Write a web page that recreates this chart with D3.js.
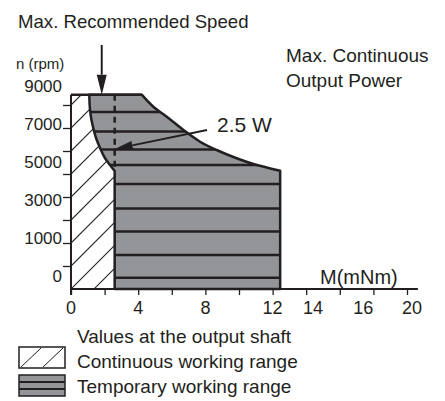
<!DOCTYPE html>
<html>
<head>
<meta charset="utf-8">
<script src="https://cdn.jsdelivr.net/npm/d3@7"></script>
<style>
  body { margin: 0; background: #fff; }
  text { font-family: "Liberation Sans", Arial, sans-serif; fill: #231f20; }
</style>
</head>
<body>
<svg width="445" height="401"></svg>
<script>
// torque (mNm) / speed (rpm) working ranges
const topSpeed = 8450
const leftEdge = 2.6
const rightEdge = 12.45
// boundary of continuous range, bottom to top
const contCurve = [[2.6, 5130], [2.32, 5391], [2.02, 5696], [1.73, 6130], [1.49, 6565],
  [1.31, 7043], [1.17, 7565], [1.11, 8000], [1.09, 8450]]
// max. continuous output power limit, top to bottom
const powerCurve = [[4.21, 8450], [4.9, 7926], [5.7, 7491], [6.69, 6913], [7.68, 6404],
  [8.67, 6043], [9.86, 5683], [10.85, 5435], [12.45, 5140]]
// horizontal hatching levels of the temporary range
const tempLevels = [7700, 6850, 6070, 5390, 4570, 3500, 2500, 1480, 490]

const xTicks = d3.range(0, 21, 2)
const xLabels = [[0, '0'], [4, '4'], [8, '8'], [12, '12'], [14.4, '14'], [17.4, '16'], [20.3, '20']]
const yTicks = d3.range(1000, 9000, 1000)
const yLabels = ['9000', '7000', '5000', '3000', '1000', '0']

const svg = d3.select('svg')
const ink = '#231f20'
const grey = '#939598'

const x = d3.scaleLinear().domain([0, 20]).range([71, 407])
const y = d3.scaleLinear().domain([0, 9000]).range([289, 82])
const yLab = d3.scalePoint().domain(yLabels).range([86, 276])

// hatched continuous range
svg.append('clipPath').attr('id', 'contClip')
  .append('rect')
    .attr('x', x(0)).attr('y', y(topSpeed))
    .attr('width', x(leftEdge) - x(0)).attr('height', y(0) - y(topSpeed))

svg.append('g').attr('clip-path', 'url(#contClip)')
  .selectAll('line')
    .data(d3.range(-3, 12))
  .enter().append('line')
    .attr('x1', x(0)).attr('y1', d => y(d * 1000))
    .attr('x2', x(0) + 90).attr('y2', d => y(d * 1000) - 90)
    .attr('stroke', ink).attr('stroke-width', 1.1)

// temporary range
const curve = d3.line().x(d => x(d[0])).y(d => y(d[1])).curve(d3.curveCatmullRom)
const tempPath = `M${x(leftEdge)},${y(0)}` +
  curve(contCurve).replace(/^M/, 'L') +
  curve(powerCurve).replace(/^M/, 'L') +
  `L${x(rightEdge)},${y(0)}Z`

svg.append('clipPath').attr('id', 'tempClip')
  .append('path').attr('d', tempPath)

svg.append('path')
    .attr('d', tempPath)
    .attr('fill', grey)

svg.append('g').attr('clip-path', 'url(#tempClip)')
  .selectAll('line')
    .data(tempLevels)
  .enter().append('line')
    .attr('x1', x(0)).attr('x2', x(rightEdge))
    .attr('y1', d => y(d)).attr('y2', d => y(d))
    .attr('stroke', ink).attr('stroke-width', 2.5)

svg.append('path')
    .attr('d', tempPath)
    .attr('fill', 'none')
    .attr('stroke', ink).attr('stroke-width', 2.5)
    .attr('stroke-linejoin', 'round')

// top border across the whole range
svg.append('line')
    .attr('x1', x(0)).attr('x2', x(powerCurve[0][0]))
    .attr('y1', y(topSpeed)).attr('y2', y(topSpeed))
    .attr('stroke', ink).attr('stroke-width', 2.5)

// dashed line = max continuous torque
svg.append('line')
    .attr('x1', x(leftEdge)).attr('x2', x(leftEdge))
    .attr('y1', y(topSpeed)).attr('y2', y(contCurve[0][1]))
    .attr('stroke', ink).attr('stroke-width', 2.5)
    .attr('stroke-dasharray', '6,5')

// axes
const xAxis = svg.append('g')
    .attr('transform', `translate(0,${y(0)})`)
    .call(d3.axisBottom(x).tickValues(xTicks).tickSize(6).tickFormat(''))
xAxis.select('.domain').attr('d', `M${x(0)},0H${x(20.65)}`)
xAxis.selectAll('path, line').attr('stroke', ink).attr('stroke-width', 2)
xAxis.selectAll('.tick line').attr('stroke-width', 1.3)

const yAxis = svg.append('g')
    .attr('transform', `translate(${x(0)},0)`)
    .call(d3.axisLeft(y).tickValues(yTicks).tickSize(8).tickFormat(''))
yAxis.select('.domain').attr('d', `M0,${y(topSpeed)}V${y(0) + 6}`)
yAxis.selectAll('path, line').attr('stroke', ink).attr('stroke-width', 2)
yAxis.selectAll('.tick line').attr('stroke-width', 1.3)

svg.append('g').selectAll('text')
    .data(xLabels)
  .enter().append('text')
    .attr('x', d => x(d[0])).attr('y', 314)
    .attr('text-anchor', 'middle')
    .attr('font-size', 18)
    .text(d => d[1])

svg.append('g').selectAll('text')
    .data(yLabels)
  .enter().append('text')
    .attr('x', 62).attr('y', d => yLab(d) + 6)
    .attr('text-anchor', 'end')
    .attr('font-size', 17)
    .text(d => d)

// arrows
function arrow(x1, y1, x2, y2, len, half) {
  const a = Math.atan2(y2 - y1, x2 - x1)
  const bx = x2 - len * Math.cos(a), by = y2 - len * Math.sin(a)
  svg.append('line')
      .attr('x1', x1).attr('y1', y1).attr('x2', bx).attr('y2', by)
      .attr('stroke', ink).attr('stroke-width', 2)
  svg.append('path')
      .attr('d', `M${x2},${y2}L${bx + half * Math.sin(a)},${by - half * Math.cos(a)}` +
        `L${bx - half * Math.sin(a)},${by + half * Math.cos(a)}Z`)
      .attr('fill', ink)
}
arrow(x(1.83), 45, x(1.83), y(topSpeed), 20, 5)
arrow(207, 130, x(leftEdge), y(6087), 18, 4.5)

// texts
const txt = (s, tx, ty, size) => svg.append('text')
    .attr('x', tx).attr('y', ty).attr('font-size', size).text(s)
txt('Max. Recommended Speed', 18, 28, 18.6)
txt('n (rpm)', 16, 69, 15)
txt('Max. Continuous', 286, 62, 19)
txt('Output Power', 286, 87, 19)
txt('2.5 W', 217, 132, 21)
txt('M(mNm)', 320, 284, 20)
txt('Values at the output shaft', 77, 343, 19)
txt('Continuous working range', 77, 368, 19)
txt('Temporary working range', 77, 393, 19)

// legend swatches
const hatchBox = svg.append('g')
hatchBox.append('rect')
    .attr('x', 19).attr('y', 347).attr('width', 46).attr('height', 21)
    .attr('fill', '#fff').attr('stroke', ink).attr('stroke-width', 1.5)
hatchBox.selectAll('line')
    .data([0, 1])
  .enter().append('line')
    .attr('x1', d => 21 + d * 22).attr('y1', 367)
    .attr('x2', d => 41 + d * 22).attr('y2', 348)
    .attr('stroke', ink).attr('stroke-width', 1)

const greyBox = svg.append('g')
greyBox.append('rect')
    .attr('x', 19).attr('y', 375).attr('width', 46).attr('height', 21)
    .attr('fill', grey).attr('stroke', ink).attr('stroke-width', 1.5)
greyBox.selectAll('line')
    .data([382, 389])
  .enter().append('line')
    .attr('x1', 19).attr('x2', 65)
    .attr('y1', d => d).attr('y2', d => d)
    .attr('stroke', ink).attr('stroke-width', 2)
</script>
</body>
</html>
